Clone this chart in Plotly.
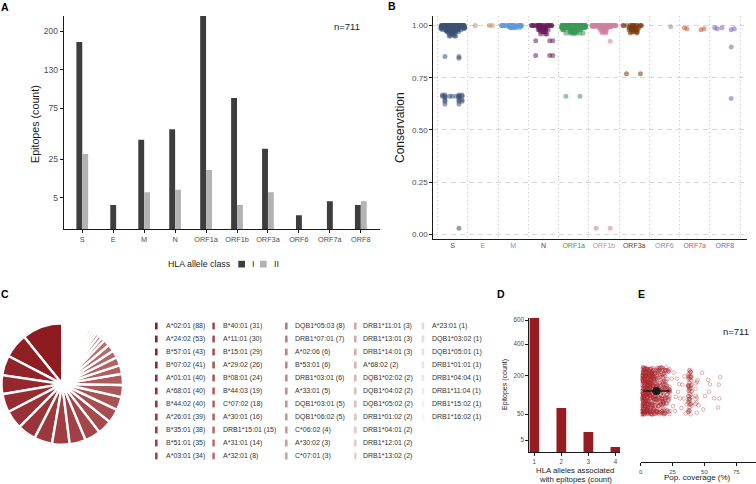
import numpy as np
import plotly.graph_objects as go

W, H = 756, 484
FONT = "Liberation Sans, Arial, Helvetica, sans-serif"


def fx(x):
    return x / W


def fy(y):
    return 1 - y / H


# ---------------- Panel A data ----------------
proteins = ["S", "E", "M", "N", "ORF1a", "ORF1b", "ORF3a", "ORF6", "ORF7a", "ORF8"]
epitopes_class_I = [179, 3, 41, 51, 232, 88, 33, 1, 4, 3]
epitopes_class_II = [29, 0, 7, 8, 18, 3, 7, 0, 0, 4]
a_tick_vals = [5, 25, 75, 130, 200]

# ---------------- Panel B data (conservation value -> number of epitopes) ----------------
protein_colors = ["#3d5277", "#c8865a", "#5b9ae0", "#6a1b5c", "#3a9a58",
                  "#d07fa2", "#7a3c0c", "#8e8ca8", "#c65a35", "#7b62c0"]
cons_values = [
    [1.00, 0.995, 0.99, 0.985, 0.98, 0.975, 0.97, 0.96, 0.95, 0.852, 0.843,
     0.668, 0.662, 0.655, 0.645, 0.637, 0.624, 0.029],
    [1.00],
    [1.00, 0.995, 0.99],
    [1.00, 0.99, 0.98, 0.97, 0.96, 0.927, 0.857],
    [1.00, 0.995, 0.99, 0.98, 0.97, 0.963, 0.662],
    [1.00, 0.995, 0.99, 0.98, 0.97, 0.965, 0.925, 0.029],
    [1.00, 0.99, 0.98, 0.97, 0.965, 0.769],
    [0.995],
    [0.99, 0.985, 0.98],
    [0.99, 0.985, 0.98, 0.898, 0.651],
]
cons_counts = [
    [67, 30, 25, 15, 15, 10, 10, 6, 4, 2, 1, 4, 8, 2, 3, 3, 2, 1],
    [3],
    [30, 12, 6],
    [25, 12, 8, 5, 3, 3, 3],
    [130, 50, 30, 20, 10, 8, 2],
    [46, 18, 10, 8, 4, 2, 1, 2],
    [14, 10, 7, 5, 2, 2],
    [1],
    [1, 2, 1],
    [2, 2, 1, 1, 1],
]
b_tick_vals = [0, 0.25, 0.5, 0.75, 1.0]

# ---------------- Panel C data ----------------
alleles = ["A*02:01", "A*24:02", "B*57:01", "B*07:02", "A*01:01", "A*68:01", "B*44:02",
           "A*26:01", "B*35:01", "B*51:01", "A*03:01",
           "B*40:01", "A*11:01", "B*15:01", "A*29:02", "B*08:01", "B*44:03", "C*07:02",
           "A*30:01", "DRB1*15:01", "A*31:01", "A*32:01",
           "DQB1*05:03", "DRB1*07:01", "A*02:06", "B*53:01", "DRB1*03:01", "A*33:01",
           "DQB1*03:01", "DQB1*06:02", "C*06:02", "A*30:02", "C*07:01",
           "DRB1*11:01", "DRB1*13:01", "DRB1*14:01", "A*68:02", "DQB1*02:02", "DQB1*04:02",
           "DQB1*05:02", "DRB1*01:02", "DRB1*04:01", "DRB1*12:01", "DRB1*13:02",
           "A*23:01", "DQB1*03:02", "DQB1*05:01", "DRB1*01:01", "DRB1*04:04", "DRB1*11:04",
           "DRB1*15:02", "DRB1*16:02"]
allele_counts = [88, 53, 43, 41, 40, 40, 40, 39, 38, 35, 34,
                 31, 30, 29, 26, 24, 19, 18, 16, 15, 14, 8,
                 8, 7, 6, 6, 6, 5, 5, 5, 4, 3, 3,
                 3, 3, 3, 2, 2, 2, 2, 2, 2, 2, 2,
                 1, 1, 1, 1, 1, 1, 1, 1]

# ---------------- Panel D data ----------------
n_alleles = [1, 2, 3, 4]
epitopes_by_n_alleles = [621, 67, 14, 1]
d_tick_vals = [5, 50, 200, 400, 600]

# ---------------- Panel E data (population coverage % -> number of epitopes) ----------------
cov_dense_pct = [0.6, 1.3, 2.0, 2.8, 3.5, 4.2, 5.0, 5.7, 6.4, 7.3, 8.1, 8.9, 9.8, 10.6,
                 11.4, 12.3, 13.1, 14.0, 14.9, 15.7, 16.6, 17.5, 18.3, 19.2, 20.0, 20.9,
                 21.8, 22.7, 37.4, 38.3, 39.2, 40.0, 43.1, 44.0]
cov_dense_n = [25, 29, 28, 34, 30, 31, 34, 29, 27, 31, 29, 25, 26, 20,
               18, 20, 18, 16, 14, 16, 18, 20, 18, 14, 12, 10,
               12, 10, 18, 20, 14, 8, 5, 4]
cov_sparse_low = [24.4, 25.3, 25.9, 26.8, 27.6, 28.5, 29.3, 30.2, 31.0, 31.9, 32.7, 33.6,
                  34.4, 35.3, 36.2]
cov_sparse_high = [44.6, 45.5, 48.2, 49.1, 50.5, 53.0, 53.6, 54.3, 57.5, 60.7, 61.3, 61.8, 62.4]
cov_mean = [12.4]
cov_sd = [10.3]
e_tick_vals = [0, 25, 50, 75]
n_epitopes_total = 711

# ---------------- styling constants ----------------
AX_COL = "#1a1a1a"
TICK_COL = "#4d4d4d"
DARK_RED = "#961c21"

fig = go.Figure()

# ---------------- Panel A ----------------
bw = 0.19
has_II = [v > 0 for v in epitopes_class_II]
fig.add_trace(go.Bar(
    x=proteins, y=np.sqrt(epitopes_class_I), width=bw,
    offset=[-bw if h else -bw / 2 for h in has_II],
    marker=dict(color="#3d3d3d", line=dict(width=0)),
    xaxis="x", yaxis="y", showlegend=False, hoverinfo="skip"))
idx2 = [i for i, h in enumerate(has_II) if h]
fig.add_trace(go.Bar(
    x=[proteins[i] for i in idx2], y=np.sqrt([epitopes_class_II[i] for i in idx2]),
    width=bw, offset=0,
    marker=dict(color="#b3b3b3", line=dict(width=0)),
    xaxis="x", yaxis="y", showlegend=False, hoverinfo="skip"))


# ---------------- Panel B ----------------
def strip(name, values, col):
    fig.add_trace(go.Box(
        x=[name] * len(values), y=values, boxpoints="all", jitter=1, pointpos=0, width=0.8,
        fillcolor="rgba(0,0,0,0)", line=dict(color="rgba(0,0,0,0)", width=0),
        marker=dict(color=col, size=5, opacity=0.55, line=dict(width=0)),
        xaxis="x2", yaxis="y2", showlegend=False, hoverinfo="skip"))


for name, col, vals, cnts in zip(proteins, protein_colors, cons_values, cons_counts):
    main_v = [v for v in vals if v >= 0.94]
    main_n = [n for v, n in zip(vals, cnts) if v >= 0.94]
    if main_v:
        strip(name, np.repeat(main_v, main_n), col)
    for v, n in zip(vals, cnts):
        if v < 0.94:
            strip(name, np.repeat([v], n), col)

# ---------------- Panel C ----------------
base = np.array([142, 27, 32])
n_all = len(alleles)
alphas = 1 - 0.94 * np.arange(n_all) / (n_all - 1)
allele_colors = ["rgb(%d,%d,%d)" % tuple(np.round(255 - a * (255 - base)).astype(int)) for a in alphas]
first_slice_deg = 360.0 * allele_counts[0] / sum(allele_counts)
fig.add_trace(go.Pie(
    labels=alleles, values=allele_counts, sort=False, direction="counterclockwise",
    rotation=-first_slice_deg, hole=0.06, textinfo="none", hoverinfo="skip", showlegend=False,
    marker=dict(colors=allele_colors, line=dict(color="white", width=2.4)),
    domain=dict(x=[fx(1.5), fx(123)], y=[fy(445), fy(323)])))

# ---------------- Panel D ----------------
fig.add_trace(go.Bar(
    x=n_alleles, y=np.sqrt(epitopes_by_n_alleles), width=0.36,
    marker=dict(color=DARK_RED, line=dict(width=0)),
    xaxis="x3", yaxis="y3", showlegend=False, hoverinfo="skip"))

# ---------------- Panel E ----------------
e_marker = dict(symbol="circle-open", size=3.6, color="#a8282d", opacity=0.45,
                line=dict(width=0.8, color="#a8282d"))
for xs in [np.repeat(cov_dense_pct, cov_dense_n), np.array(cov_sparse_low), np.array(cov_sparse_high)]:
    fig.add_trace(go.Box(
        x=xs, y0=0, orientation="h", boxpoints="all", jitter=1, pointpos=0, width=0.72,
        fillcolor="rgba(0,0,0,0)", line=dict(color="rgba(0,0,0,0)", width=0),
        marker=e_marker, xaxis="x4", yaxis="y4", showlegend=False, hoverinfo="skip"))
fig.add_trace(go.Scatter(
    x=cov_mean, y=[0], mode="markers",
    marker=dict(color="#1a1a1a", size=8),
    error_x=dict(type="data", array=cov_sd, color="#1a1a1a", thickness=1.4, width=0),
    xaxis="x4", yaxis="y4", showlegend=False, hoverinfo="skip"))

# ---------------- axes ----------------
axis_common = dict(showline=True, linecolor=AX_COL, linewidth=1, zeroline=False,
                   ticks="outside", ticklen=3, tickcolor=AX_COL, tickwidth=1)

fig.update_layout(
    width=W, height=H, margin=dict(l=0, r=0, t=0, b=0, autoexpand=False),
    paper_bgcolor="white", plot_bgcolor="white",
    font=dict(family=FONT, color="#1a1a1a"),
    barmode="overlay", boxmode="overlay",
    xaxis=dict(domain=[fx(63.7), fx(380)], anchor="y", type="category",
               categoryorder="array", categoryarray=proteins, range=[-0.6, 9.62],
               showgrid=False, tickangle=0, tickfont=dict(size=7.3, color=TICK_COL), **axis_common),
    yaxis=dict(domain=[fy(229.3), fy(16)], anchor="x",
               range=[0, float(np.sqrt(max(epitopes_class_I)))],
               tickmode="array", tickvals=np.sqrt(a_tick_vals).tolist(),
               ticktext=[str(v) for v in a_tick_vals], showgrid=False,
               tickfont=dict(size=8.5, color=TICK_COL), **axis_common),
    xaxis2=dict(domain=[fx(433.3), fx(746.7)], anchor="y2", type="category",
                categoryorder="array", categoryarray=proteins, range=[-0.64, 9.72],
                showline=True, linecolor=AX_COL, linewidth=1, zeroline=False,
                ticks="", tickson="boundaries", tickmode="array", tickvals=proteins,
                ticktext=['<span style="color:%s">%s</span>' % (c, p) for p, c in zip(proteins, protein_colors)],
                tickangle=0, showgrid=True, gridcolor="#c9c9c9", gridwidth=1, griddash="1px,3px",
                tickfont=dict(size=7)),
    yaxis2=dict(domain=[fy(238.7), fy(16)], anchor="x2", range=[-0.021, 1.046],
                tickmode="array", tickvals=b_tick_vals,
                ticktext=["%.2f" % v for v in b_tick_vals],
                showgrid=True, gridcolor="#d9d9d9", gridwidth=1, griddash="5px,4px",
                tickfont=dict(size=8, color=TICK_COL), **axis_common),
    xaxis3=dict(domain=[fx(529.3), fx(620)], anchor="y3", range=[0.815, 4.17],
                tickmode="array", tickvals=n_alleles, showgrid=False, tickangle=0,
                tickfont=dict(size=6.3, color=TICK_COL), **axis_common),
    yaxis3=dict(domain=[fy(452.3), fy(317.7)], anchor="x3",
                range=[0, float(np.sqrt(max(epitopes_by_n_alleles)))],
                tickmode="array", tickvals=np.sqrt(d_tick_vals).tolist(),
                ticktext=[str(v) for v in d_tick_vals], showgrid=False,
                tickfont=dict(size=6.3, color=TICK_COL), **axis_common),
    xaxis4=dict(domain=[fx(640.7), fx(756)], anchor="y4", range=[0, 90.5],
                tickmode="array", tickvals=e_tick_vals, showgrid=False, tickangle=0,
                tickfont=dict(size=6, color=TICK_COL), **axis_common),
    yaxis4=dict(domain=[fy(462.3), fy(330)], anchor="x4", range=[-1.078, 0.922],
                visible=False, showgrid=False, zeroline=False),
)

# ---------------- annotations & legend keys ----------------
annotations = []
shapes = []


def ann(text, x, y, size, color="#1a1a1a", xanchor="center", angle=0, bold=False):
    annotations.append(dict(
        text=("<b>%s</b>" % text) if bold else text, x=fx(x), y=fy(y),
        xref="paper", yref="paper", xanchor=xanchor, yanchor="middle",
        showarrow=False, textangle=angle, font=dict(size=size, color=color, family=FONT)))


for letter, (lx, ly) in zip("ABCDE", [(4.5, 7), (391.5, 6), (4.5, 294), (500.5, 294), (641.5, 294)]):
    ann(letter, lx, ly, 10.5, color="black", bold=True)

ann("n=%d" % n_epitopes_total, 347, 26, 9.5)
ann("n=%d" % n_epitopes_total, 735.7, 331.7, 9.5)
ann("Epitopes (count)", 35, 124, 10.7, angle=-90)
ann("Conservation", 399.5, 127.5, 12, angle=-90)
ann("Epitopes (count)", 505, 385, 7, angle=-90)
ann("HLA alleles associated", 575, 470, 7.8)
ann("with epitopes (count)", 575, 479.5, 7.8)
ann("Pop. coverage (%)", 697.7, 477.7, 8)

# legend for panel A
ann("HLA allele class", 166, 263.5, 8.8, xanchor="left")
for lab, col, kx in [("I", "#3d3d3d", 238.3), ("II", "#b3b3b3", 260)]:
    shapes.append(dict(type="rect", xref="paper", yref="paper",
                       x0=fx(kx), x1=fx(kx + 6.7), y0=fy(267.5), y1=fy(260.8),
                       fillcolor=col, line=dict(width=0)))
    ann(lab, kx + 12, 263.5, 8.8, xanchor="left")

# legend for panel C
key_x = [155, 212.3, 285, 354, 421.7]
text_x = [164, 220.5, 292.5, 361, 429.5]
for i, (al, ct, colr) in enumerate(zip(alleles, allele_counts, allele_colors)):
    c, r = divmod(i, 11)
    yc = 326 + 13 * r
    shapes.append(dict(type="rect", xref="paper", yref="paper",
                       x0=fx(key_x[c]), x1=fx(key_x[c] + 2.6), y0=fy(yc + 3.4), y1=fy(yc - 3.4),
                       fillcolor=colr, line=dict(width=0)))
    ann("%s (%d)" % (al, ct), text_x[c], yc, 7, color="#333333", xanchor="left")

fig.update_layout(annotations=annotations, shapes=shapes)
fig.write_html("out.html", config={"displayModeBar": False},
               post_script="document.body.style.margin='0px';document.body.style.overflow='hidden';")
